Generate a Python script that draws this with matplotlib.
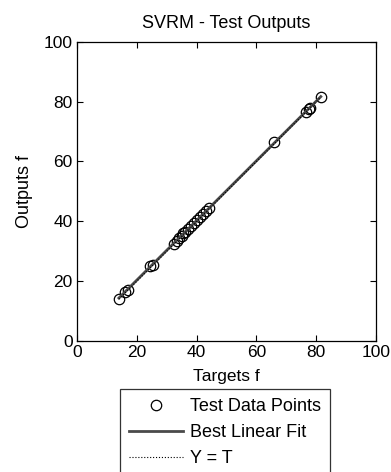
import numpy as np
import matplotlib.pyplot as plt

plt.rcParams['font.family'] = ['Liberation Sans', 'DejaVu Sans']

# test targets and the SVRM outputs
targets = [14, 16, 17, 24.5, 25.5, 32.5, 33.5, 34, 35, 35.5, 36, 37, 38, 39,
           40, 41, 42, 43, 44, 66, 76.5, 77.5, 78, 81.5]
outputs = [14, 16.5, 17, 25, 25.5, 32.5, 33.5, 34.5, 35, 36, 36.5, 37.5, 38.5,
           39.5, 40.5, 41.5, 42.5, 43.5, 44.5, 66.5, 76.5, 77.5, 78, 81.5]
ticks = [0, 20, 40, 60, 80, 100]

fig = plt.figure(figsize=(3.91, 4.72), dpi=100)
ax = fig.add_axes([0.197, 0.2775, 0.765, 0.634])

t = np.array(targets)
o = np.array(outputs)
m, b = np.polyfit(t, o, 1)
tt = np.array([t.min(), t.max()])

ax.plot(t, o, 'o', mfc='none', mec='black', ms=7.5, mew=0.9,
        label='Test Data Points')
ax.plot(tt, m * tt + b, '-', color='#4a4a4a', lw=2, label='Best Linear Fit')
ax.plot(tt, tt, ':', color='black', lw=0.8, label='Y = T')

ax.set_xlim(0, 100)
ax.set_ylim(0, 100)
ax.set_xticks(ticks)
ax.set_yticks(ticks)
ax.tick_params(direction='in', top=True, right=True, labelsize=12.5,
               length=4, width=0.8, pad=3)
for s in ax.spines.values():
    s.set_linewidth(0.9)

ax.set_title('SVRM - Test Outputs', fontsize=13, pad=10)
ax.set_xlabel('Targets f', fontsize=12.5, labelpad=6)
ax.set_ylabel('Outputs f', fontsize=13, labelpad=8)

leg = fig.legend(loc='upper left', bbox_to_anchor=(120 / 391, 1 - 389 / 472),
                 fontsize=13, frameon=True, fancybox=False, handlelength=3.0,
                 handletextpad=0.35, borderpad=0.5, labelspacing=0.5,
                 borderaxespad=0)
leg.get_frame().set_edgecolor('black')
leg.get_frame().set_linewidth(0.9)

fig.savefig('out.png', dpi=100)
